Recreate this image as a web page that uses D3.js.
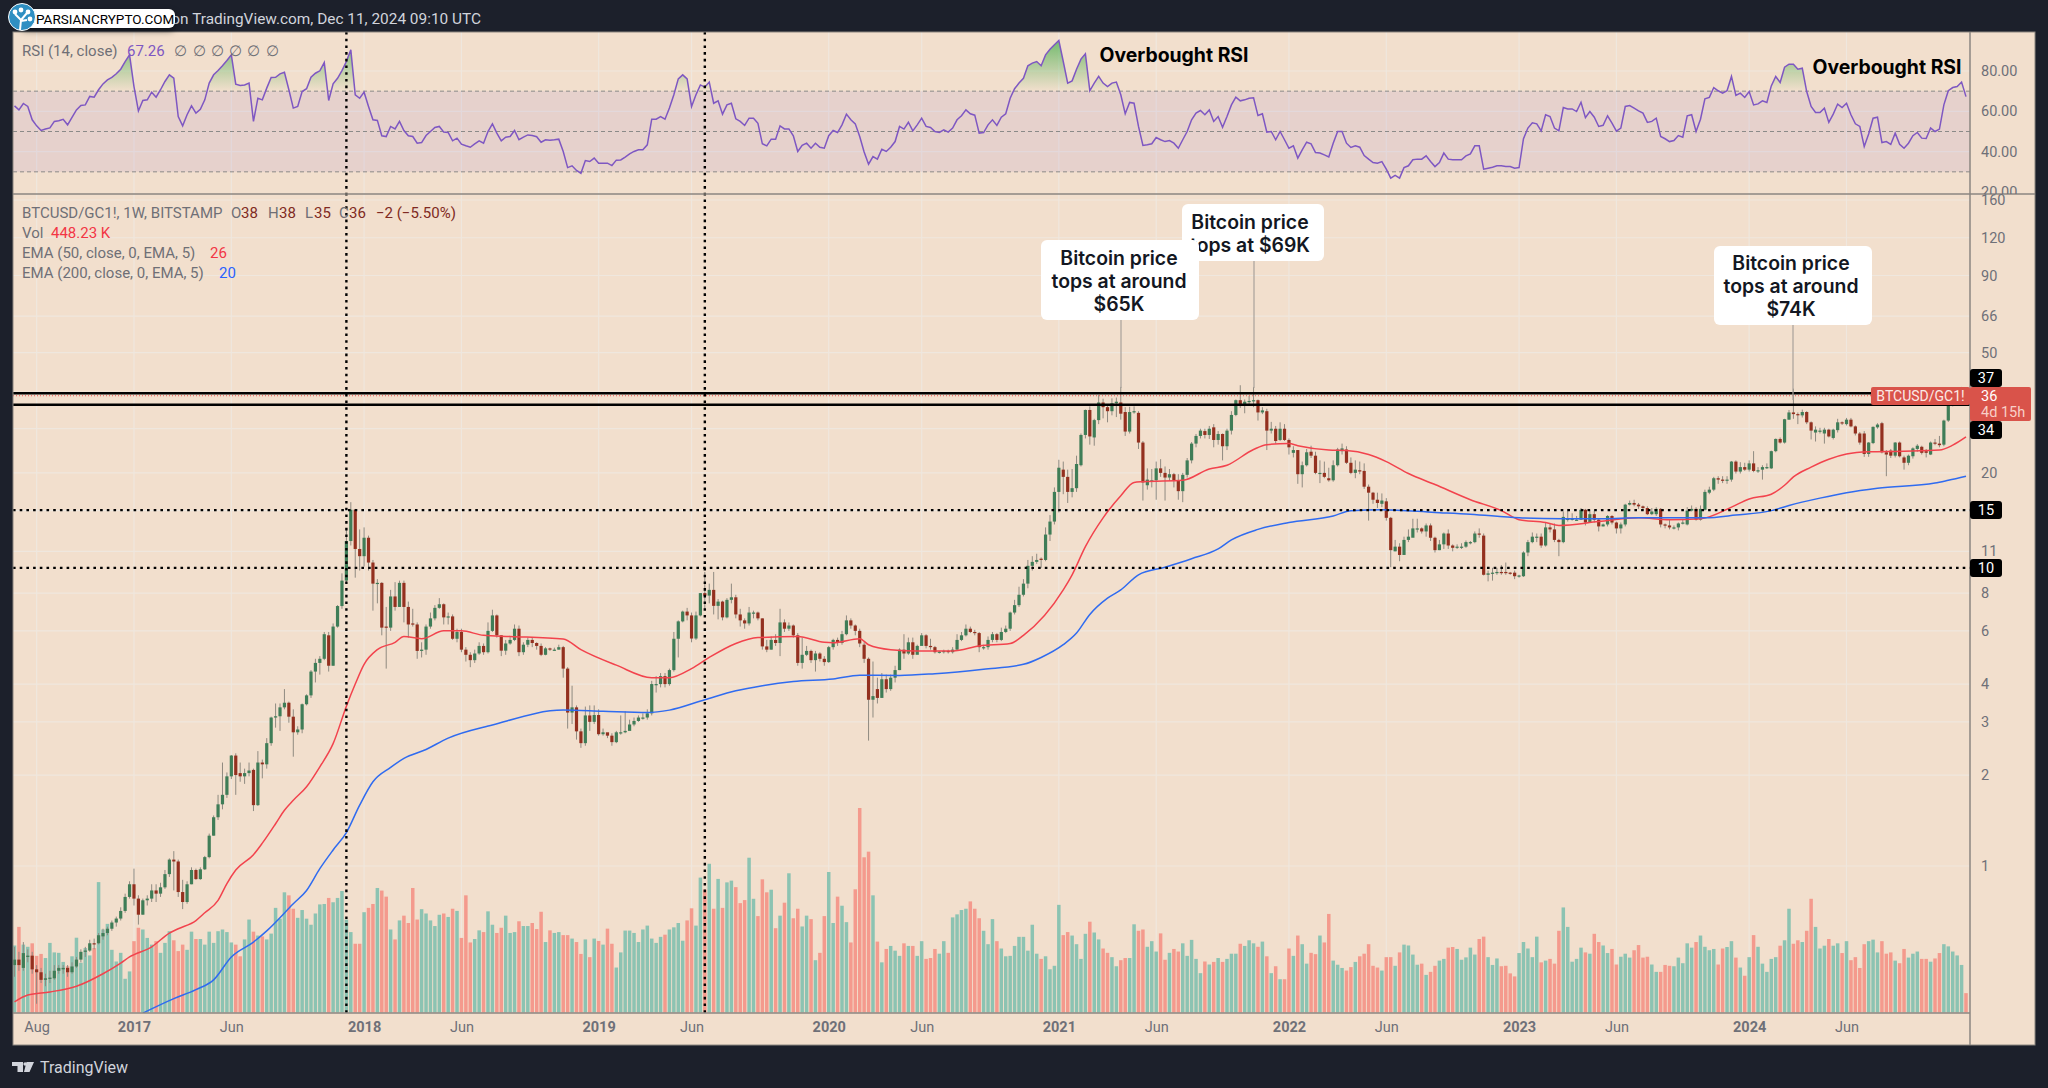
<!DOCTYPE html>
<html>
<head>
<meta charset="utf-8">
<title>BTCUSD/GC1!</title>
<script src="https://cdn.jsdelivr.net/npm/d3@7"></script>
<style>
  body { margin: 0; background: #1c202b; }
  text { font-family: Roboto, "Noto Sans", sans-serif; }
  .note { font-family: Inter, Roboto, sans-serif; font-weight: 600; font-size: 19.4px; fill: #131722; text-anchor: middle; dominant-baseline: central; }
  .legend { font-size: 15px; fill: #6f6f76; dominant-baseline: central; }
  .axis text { font-size: 14.5px; fill: #6f7078; }
  .axis path, .axis line { display: none; }
</style>
</head>
<body>
<div class="chart"></div>
<script>
// weekly bars, 27 Jun 2016 to 9 Dec 2024
var opens = [
.47,.49,.46,.50,.505,.455,.445,.42,.425,.425,
.45,.455,.46,.445,.465,.49,.52,.525,.555,.555,
.585,.60,.62,.65,.67,.71,.79,.87,.78,.69,
.77,.78,.83,.81,.85,.94,1.05,1.035,.82,.76,
.87,.97,.905,.975,1.07,1.26,1.45,1.6,1.72,1.98,
2.32,2.03,1.98,2.03,2.08,1.59,2.2,2.17,2.55,3.1,
3.13,3.35,3.47,3.12,2.77,2.83,3.43,3.67,4.4,4.7,
4.85,5.8,4.6,6.2,7.25,8.8,11.9,15.1,11.2,10.6,
12.2,10.1,8.6,8.65,6.2,6.15,7.8,7.2,8.65,7.2,
6.35,6.3,5.15,5.2,6.2,6.6,7.15,7.35,6.65,6.7,
5.65,5.95,5.2,5.0,4.8,5.05,5.35,5.1,6.0,6.75,
5.8,5.16,5.45,5.6,6.1,5.1,5.4,5.6,5.47,5.35,
5.0,5.25,5.2,5.2,5.3,4.5,3.22,3.35,2.79,2.55,
3.15,3.0,3.16,2.73,2.77,2.7,2.57,2.77,2.77,2.8,
2.94,3.02,3.1,3.1,3.2,4.0,4.0,4.25,4.0,4.45,
5.65,6.45,6.95,6.75,5.66,6.75,8.0,7.85,8.2,7.26,
7.5,6.65,7.6,7.75,6.8,6.5,6.35,6.9,6.9,6.6,
5.33,5.2,5.6,5.47,6.4,6.1,6.25,5.8,4.7,5.0,
5.15,4.8,5.05,4.85,4.73,5.3,5.6,5.47,5.85,6.5,
6.25,6.0,5.4,4.85,3.55,3.85,3.6,4.15,3.85,4.2,
4.45,5.2,5.05,5.5,5.0,5.35,5.8,5.35,5.3,5.1,
5.1,5.15,5.1,5.2,5.6,5.8,6.1,5.95,5.9,5.3,
5.3,5.6,5.85,5.6,5.95,6.1,6.9,7.3,7.9,8.6,
9.85,10.15,10.4,10.3,12.5,13.8,17.3,20.5,19.4,17.3,
17.8,21.2,26.7,32.3,26.2,29.9,34.2,33,32,34,
34.2,31.8,27.4,31.8,31.6,25.2,18.2,18.7,18.9,20.7,
20,19.3,19.8,18.9,17.4,19.7,22,25,26.5,27.5,
26.7,28.3,25.7,26.9,24.5,27.6,31.1,34.8,33.8,34.3,
34.6,34.8,31.7,32,27.6,28,25.7,28,25.7,23.3,
23.8,19.8,21.2,23.5,22.8,20,20,19.2,18.9,21.2,
23.6,23.9,21.6,20,20.4,20.3,18,17.2,16.3,15.8,
16.1,14.2,11,11.4,10.7,12,12.2,13.1,13.1,12.8,
13.4,12.2,11.1,11.6,12.6,11.5,11.3,11.4,11.4,11.8,
11.8,12.6,12.4,9.2,9.3,9.35,9.4,9.4,9.35,9.35,
9.1,9.1,10.9,11.8,12.3,12.3,11.5,13.2,13,12,
11.8,14,14,14,14,15.1,13.7,14.6,14,13.3,
13.5,14.4,13.7,13.1,13.5,15.7,15.9,15.7,15.5,15.3,
14.6,14.6,15.2,13.5,13.4,13.2,13.2,13.6,13.5,15,
15.2,14,15.1,17.2,17.6,19.2,19,18.9,19,21.8,
20.2,20.9,20.5,21.5,20.3,20.5,20.8,20.7,23.6,25.9,
25.2,30,31.7,31.3,31,31.8,29.4,27.2,27.6,27,
27.8,26.1,27.7,29.4,29,30,28.5,27,27,23.1,
25.1,28.3,29.2,23.4,23.7,22.8,25.2,22.5,21.6,22.7,
24,24.4,23.6,23,25.2,25,24.8,29.8,33.5,36,
38,38];
var closes = [
.49,.47,.515,.505,.455,.445,.42,.425,.427,.45,
.46,.46,.445,.465,.49,.52,.525,.555,.55,.59,
.60,.62,.65,.67,.71,.79,.87,.78,.69,.77,
.78,.83,.81,.85,.94,1.05,1.035,.82,.76,.87,
.97,.905,.975,1.07,1.26,1.45,1.6,1.72,1.98,2.32,
2.0,1.98,2.03,2.07,1.59,2.2,2.17,2.55,3.1,3.13,
3.35,3.47,3.12,2.77,2.83,3.43,3.67,4.4,4.7,4.85,
5.85,4.6,6.2,7.25,8.8,11.9,15.1,11.2,10.6,12.2,
10.1,8.6,8.65,6.15,6.15,7.8,7.2,8.65,7.2,6.3,
6.3,5.15,5.2,6.2,6.6,7.15,7.35,6.65,6.7,5.65,
5.95,5.2,5.0,4.8,5.05,5.35,5.1,6.0,6.75,5.8,
5.16,5.45,5.6,6.1,5.1,5.4,5.6,5.47,5.35,5.0,
5.25,5.2,5.2,5.3,4.5,3.22,3.35,2.79,2.55,3.15,
3.0,3.16,2.73,2.77,2.7,2.57,2.77,2.77,2.8,2.94,
3.02,3.1,3.1,3.2,4.0,4.0,4.25,4.0,4.45,5.65,
6.45,6.95,6.75,5.66,6.75,8.0,7.85,8.2,7.26,7.5,
6.65,7.6,7.75,6.8,6.5,6.35,6.9,6.9,6.6,5.33,
5.2,5.6,5.47,6.4,6.1,6.25,5.8,4.7,5.0,5.15,
4.8,5.05,4.85,4.73,5.3,5.6,5.47,5.85,6.5,6.25,
6.0,5.45,4.85,3.55,3.65,3.6,4.15,3.85,4.2,4.45,
5.2,5.05,5.5,5.0,5.35,5.8,5.35,5.3,5.1,5.12,
5.15,5.1,5.2,5.6,5.8,6.1,5.95,5.9,5.3,5.3,
5.6,5.85,5.6,5.95,6.1,6.9,7.3,7.9,8.6,9.85,
10.15,10.3,10.3,12.5,13.8,17.3,20.8,19.4,17.3,17.8,
21.4,26.7,32.3,26.4,29.9,34.2,33,32,34,34.4,
31.4,27.4,31.8,32,25.2,18.6,19,18.9,20.7,20,
19.3,19.8,18.9,17.4,19.7,22,25,26.5,27.6,26.7,
28,25.7,26.9,24.5,27.6,31.1,34.8,33.8,34.4,34.6,
34.8,31.7,32.2,27.6,28,25.5,28,25.7,24.3,23.8,
19.8,21.2,23.4,22.8,20,20,19.4,18.9,21.2,23.9,
24.1,21.6,20,20.5,20.3,18,17.2,16.3,15.9,16.2,
14.2,11.1,11.4,10.7,12,12.3,13.1,13.1,12.8,13.4,
12.2,11.1,11.6,12.6,11.5,11.3,11.4,11.4,11.8,11.8,
12.6,12.5,9.2,9.3,9.35,9.4,9.35,9.35,9.3,9.1,
9.15,10.9,11.8,12.3,12.3,11.5,13.2,13,12,11.8,
14.3,14.1,14.1,14,15.1,13.7,14.6,14,13.3,13.5,
14.4,13.7,13.1,13.5,15.7,15.9,15.7,15.5,15.3,14.6,
14.9,15.2,13.5,13.4,13.2,13.2,13.6,13.7,15,15.2,
14,15.2,17.3,17.6,19.2,19,18.9,19,21.8,20.2,
20.9,20.5,21.5,20.3,20.4,20.9,20.9,23.6,25.9,25.2,
30.1,31.7,31.3,31.1,31.8,29.4,27.6,27.8,27.6,27.8,
26.4,27.8,29.4,29.2,30,28.5,27,25.2,23.1,25.2,
28.4,28.9,23.4,23,22.8,25.2,22.7,21.6,22.8,24.1,
24.6,23.3,23.3,25.2,25,24.7,29.8,33.5,36,37.5,
38,36];
var highs = [
.54,.52,.56,.53,.52,.47,.46,.44,.45,.47,
.47,.47,.47,.48,.50,.53,.54,.57,.575,.60,
.62,.63,.66,.68,.73,.81,.89,.98,.80,.78,
.80,.87,.87,.88,.97,1.06,1.12,1.05,.90,.89,
.99,.98,.99,1.08,1.28,1.47,1.72,2.2,2.04,2.33,
2.36,2.2,2.1,2.2,2.1,2.4,2.25,2.65,3.12,3.45,
3.45,3.85,3.5,3.3,2.9,3.45,3.7,4.45,4.85,4.95,
5.95,5.95,6.35,7.3,9.3,13,16,15.2,13,13.2,
12.4,10.3,8.9,8.7,7.2,8.2,8.7,8.8,8.8,7.5,
7.1,6.4,5.5,6.3,6.9,7.3,7.7,7.4,6.9,6.8,
6.1,6.1,5.3,5.1,5.2,5.5,5.45,6.4,7.05,6.8,
5.8,5.6,5.75,6.3,6.25,5.5,5.7,5.7,5.5,5.45,
5.3,5.28,5.28,5.4,5.35,4.55,3.95,3.4,2.85,3.37,
3.4,3.4,3.3,2.85,2.75,2.75,2.8,3.15,3.25,3.05,
3.1,3.15,3.2,3.3,4.1,4.25,4.35,4.35,4.5,5.95,
6.5,7.0,7.15,6.9,6.95,8.0,9.4,8.6,9.4,7.65,
7.55,7.7,8.6,7.9,7.1,6.6,7.2,7,6.95,6.6,
5.6,5.75,5.85,7.1,6.55,6.4,6.3,5.9,5.7,5.35,
5.2,5.15,5.1,4.95,5.35,5.65,5.7,6.0,6.75,6.6,
6.3,6.1,5.5,4.9,4.75,4.2,4.35,4.3,4.3,4.6,
5.25,5.85,5.7,5.7,5.4,5.9,5.85,5.65,5.35,5.15,
5.2,5.2,5.3,5.85,5.95,6.3,6.2,6.05,5.95,5.4,
5.75,5.95,5.9,6.15,6.25,6.95,7.6,8.4,8.9,10.3,
10.6,10.8,10.5,13.2,14.5,17.9,22.1,21.8,20.5,20.6,
22.8,27,32.4,33.2,30.2,36.2,35.2,33.8,35.3,35.5,
38.5,33,33.1,33.2,32,25.5,20.7,20.6,21.8,22.2,
21,20.6,20,19.8,20,22.4,25.3,26.9,28,28,
28.6,29,27.5,27,28,32,35,39,35,36,
38.5,35,33,32.6,29.5,28.6,29.4,29,26,24.5,
23.8,21.8,24,24.6,23.5,22,21.8,20.8,22,24.2,
25,24.5,22.5,22,21.8,21.5,18.3,17.3,17.2,17.1,
16.5,14.3,12,11.7,12.3,13,14.1,14.1,13.2,13.6,
13.6,12.3,12,12.7,13,11.6,11.6,11.7,11.95,11.9,
12.8,13.1,12.6,9.5,9.7,9.7,9.9,10.1,9.4,9.5,
9.2,11,12,12.7,12.6,12.6,13.7,13.6,13.6,12.1,
14.9,15.2,14.7,14.4,15.3,15.2,15.1,15,14.1,13.6,
14.5,14.5,13.8,13.7,15.8,16.2,16.3,15.9,15.6,15.5,
15.3,15.4,15.3,13.6,14,13.4,13.7,14,15.4,15.6,
15.4,15.6,17.6,18,19.4,19.5,19.5,19.5,21.9,22,
21.7,21.6,22,23.6,20.9,21.2,21.5,23.7,26,26.2,
30.2,32.3,38,31.7,32.4,32,29.6,28.5,28.2,28.2,
28,28,30.2,29.6,30.4,30.4,28.7,27.3,27.5,25.3,
28.5,29.2,29.5,23.8,24,25.3,25.4,22.8,23,24.3,
24.9,24.6,24,25.4,25.9,26.5,30,33.7,37,38,
38.5,38.2];
var lows = [
.43,.45,.45,.48,.44,.35,.41,.40,.41,.42,
.44,.44,.43,.44,.46,.48,.50,.52,.53,.55,
.57,.59,.61,.63,.66,.70,.78,.74,.64,.69,
.74,.76,.76,.79,.84,.92,.83,.79,.72,.75,
.87,.90,.90,.97,1.06,1.26,1.42,1.54,1.68,1.94,
1.72,1.9,1.87,1.98,1.52,1.58,1.95,2.1,2.5,2.87,
2.8,3.3,2.98,2.3,2.72,2.75,3.4,3.6,4.05,4.3,
4.8,4.4,4.6,6.15,7.1,8.6,11.5,9,9.5,9.8,
9.5,7,7.4,5.8,4.5,6.0,7,7.2,6.4,5.7,
6.2,4.85,4.9,5,6.1,6.5,7.1,6.3,6.3,5.6,
5.5,5.1,4.75,4.55,4.7,5.0,5.0,5.05,5.95,5.7,
4.95,5,5.4,5.55,4.95,5,5.3,5.3,5.2,4.95,
4.98,5.15,5.15,5.2,4.2,2.85,2.95,2.62,2.46,2.5,
2.8,2.95,2.7,2.7,2.65,2.5,2.55,2.72,2.75,2.85,
2.9,3.0,3.05,3.05,3.15,3.75,3.9,3.9,3.95,4.4,
4.9,6.4,6.5,5.5,5.6,6.7,7.1,7.4,6.8,6.55,
6.5,6.6,7.4,6.6,6.2,6.1,6.25,6.6,6.5,5.2,
5.1,5.2,5.35,4.95,5.95,6,5.7,4.6,4.5,4.95,
4.7,4.4,4.75,4.6,4.7,5.2,5.35,5.4,5.8,6.1,
5.8,5.3,4.7,2.6,3.1,3.45,3.6,3.75,3.8,4.05,
4.45,4.85,5,4.85,5.2,5.4,5.25,5.2,5.05,5.05,
5.05,5.05,5.05,5.15,5.55,5.75,5.9,5.8,5.1,5.2,
5.2,5.5,5.5,5.55,5.9,6.0,6.8,7.2,7.8,8.3,
9.5,10,9.7,10.2,11.9,13.5,14.8,17,15.9,16.6,
17.3,21,26,24.8,24.6,29,30.3,29.4,31,30.6,
30,26.5,27,31.4,24,16.2,17.6,17.9,16.3,19.4,
16.2,18.8,17.9,16.3,16,19.3,21.5,24.3,26,26,
25.9,24.3,24.8,22,23.8,26.8,30.8,32.8,31.5,33.8,
33,29.8,31.3,23.8,27,25,25.5,25.5,23,22.5,
18.4,17.9,21,22.4,19.8,18.5,19.2,18.7,18.7,21,
23,21.4,19.8,19.2,19.8,17.7,13.9,15.8,15.3,15.4,
13.9,9.75,11,10.2,11.4,11.8,12.5,12.7,12.6,12.3,
11.9,10.9,11.1,11.2,11.2,11,11.2,11.2,11.3,11.6,
11.7,12.2,9.15,8.75,8.8,9.2,9.2,9.2,9.2,8.9,
9,9.05,10.6,11.7,11.8,11.3,11.4,12.7,11.8,10.6,
11.7,13.8,13.9,13.9,14,13.4,13.7,13.7,12.8,13.3,
13.3,13.5,12.6,12.6,13.3,15.6,15.5,15.2,15,14.5,
14.5,14.4,13.2,13.1,13,13,12.9,13.5,13.4,14.9,
13.9,13.9,15,17,17.4,18.4,18.5,18.4,18.7,19.9,
19.9,20.3,20.2,20.1,20,19,20.6,20.6,23.4,25,
25,30,30.2,29,30.5,29,25.8,25.4,27,25,
26.2,25.8,27.2,28.8,28.7,28.3,26.6,24.8,22.6,22.6,
24.9,28,23.2,19.5,22.4,22.5,22.5,20.5,21.2,22.3,
23.5,23,22.5,22.9,24.7,24.3,24.5,29.5,33.2,35.5,
36,35];
// volume in thousands
var volumes = [
1550,1980,1570,1520,1600,1310,1355,1260,1610,1390,
1380,1170,1070,1300,1730,1150,1490,1320,1490,3016,
1920,2050,1450,1180,1380,780,950,1650,1960,1920,
1725,1570,1650,1380,1610,1880,1670,1420,1570,1450,
1870,1700,1700,1570,1870,1610,1880,1920,1860,1620,
1570,1300,1690,2150,1870,1780,1760,1690,1825,2420,
2170,2780,2710,2400,2190,2370,2170,2030,2290,2500,
2510,2650,2550,2650,2810,2150,1860,1590,1590,2320,
2420,2510,2880,2820,2680,1920,1690,2130,2240,2070,
2880,2150,2390,2290,2130,2000,2260,2290,2210,2400,
2350,1725,2710,1620,1700,1900,1860,2340,2030,1840,
1960,2240,1840,1860,2110,2000,2000,2070,1930,2330,
1630,1900,1840,1860,1790,1790,1710,1630,1355,1690,
1280,1710,1655,1570,1940,1590,1040,1390,1895,1895,
1840,1630,1920,2010,1710,1610,1750,1800,1920,1970,
2070,1660,2130,2410,2010,3120,2840,3440,2400,3090,
2420,3010,3050,2900,2530,2600,3580,2630,2230,3080,
2780,2840,1950,2240,2540,3220,2180,2400,1990,2240,
2160,1210,1380,2230,3250,2070,2680,2470,2090,1620,
2850,4730,3590,3720,2710,1640,1160,1470,1540,1430,
1310,1600,1540,1540,1310,1650,1240,1260,1470,1360,
1650,1380,2200,2270,2370,2400,2570,2400,2180,1890,
1580,2160,1650,1480,1300,1310,1540,1750,1750,1430,
2030,1360,1240,1300,1000,1080,2490,1790,1860,1780,
1580,1240,1820,2100,1850,1690,1480,1380,1280,1070,
1210,1260,1260,2040,1890,1920,1520,1650,1410,1830,
1220,1380,1470,1410,1600,1310,1680,1240,910,1180,
1110,1170,1260,1170,1240,1360,1360,1590,1540,1670,
1600,1520,1640,1300,910,1070,770,770,1480,1310,
1780,1580,1130,1380,1350,1780,1620,2280,1200,1105,
1030,970,1050,1170,1300,1360,1580,1080,1040,970,
1280,1280,1080,1390,1570,1550,1340,1105,1130,870,
940,1080,1200,1240,1500,1515,1470,1220,1275,1500,
1340,1700,1755,1280,1100,1250,1070,1080,905,835,
1375,1630,1480,1280,1755,1160,1200,1240,1130,1890,
2430,1980,1175,1240,1500,1390,1360,1820,1630,1550,
1375,1470,1110,1290,1360,1270,1440,1560,1270,1290,
1110,940,940,1100,1080,1070,1270,1140,1600,1500,
1630,1780,1520,1440,1470,1110,1480,1515,1650,1270,
1040,850,1280,1790,1520,1130,940,1240,1280,1545,
1670,2400,1590,1670,1630,1890,2630,1980,1480,1545,
1700,1545,1600,1375,1650,1210,1280,1030,1580,1650,
1685,1390,1650,1360,1390,1200,1140,1470,1270,1360,
1410,1240,1240,1175,1250,1375,1580,1530,1410,1320,
1100,448];
var rsi = [
62.7,60.7,63.9,62.4,55.8,52.8,50.5,51.2,51.8,55,
55.3,56,53.3,57,60.7,62.9,63.2,67.4,67,70.7,
73.6,75.6,76.8,78.6,80.9,84.7,88,72.3,60.2,65.4,
65.7,69.5,67,70.7,74.8,78.1,76.4,57.4,52.8,58.3,
62.7,59.1,61,65.7,74,78.1,80.2,82.6,85.2,88,
73.5,72.8,73.1,74,55,66.5,65.7,71.5,76.8,76.9,
78.6,79.4,70.7,61.6,62.4,69.8,71.2,76.9,78.9,80.1,
84.2,65.4,73.6,76.4,80.2,84.7,90.5,68.2,66.5,69.5,
62.4,55.8,55.5,47.9,47.5,52.5,51.3,55,50.5,47.9,
47.5,44.2,44.5,48,50,52,52.5,49.7,49.5,45.4,
46.7,43.7,42.9,42.2,43.9,45.4,44.2,50,53.8,49.2,
45.4,47.2,47.5,50.5,45.9,47.2,48.3,48,47.4,44.7,
45.9,45.7,45.9,46.2,40.1,32.1,33,30.7,29.3,35.6,
35.1,36.8,34.3,34.3,34.3,33.1,35.8,35.9,37.3,38.9,
40.1,40.9,40.9,43.4,56.1,56.1,57.4,56.1,61.6,68.2,
76.1,78.1,76.1,62.4,68.2,73.1,72,74.5,64,65.2,
58.6,63.2,64,56.3,55,53,56.6,56.6,54.1,43.9,
42.9,46.2,46.2,52.8,51.3,51.3,47.9,40.1,43.1,44.2,
41.7,44.2,42.2,41.7,47.9,50.5,49.5,53.3,58.6,55.8,
53.8,47.5,39.8,33.8,37.6,36.3,41.2,40.1,42.2,45,
52.5,51.2,54.6,50.3,53.3,56.6,52.5,52,50,49.5,
50.8,49.7,51.7,55.8,57.8,60.7,58.8,58.1,49.2,49.5,
53.3,55.8,53,57.1,58.8,66.5,71.2,74,76.4,82.6,
83.9,84.7,82.6,88,90.8,93,95.1,84.7,74,75.1,
80.9,85.9,88.5,70.2,74,77.3,74,72.3,74,74.5,
68.2,58.8,64.4,64,52.5,43.1,43.4,43.9,47,45.9,
45,45.5,44.2,41.7,45.9,50,55.8,59.1,60.4,58.3,
60.7,55,57.4,52.1,57.4,63.2,67,65.2,65.7,66.5,
66.7,57.9,58.8,49.7,50,45.9,50,45.9,41.7,42.9,
36.8,40.9,44.7,43.9,39.6,39.3,38.4,37.4,44.2,50,
50,44.2,42.1,42.9,42.2,38.1,36.3,34.6,34.3,35.1,
31.3,26.9,28.2,26.9,32.1,33,36,36.3,36.3,37.9,
35.1,32.6,34.6,39.3,36.3,36,36,36,37.9,38.9,
42.9,42.9,31.3,31.8,32.3,33,33,32.6,32.6,31.8,
32.1,46.4,51.7,54.3,53.8,50.3,58.3,57.4,51.7,50.3,
61.9,61.2,61.2,59.9,64.5,56.9,59.9,57.1,52.5,53.1,
57.8,54.1,50.2,51.7,62.4,62.9,61.6,60.2,59.1,54.5,
55,56.6,47.5,46.4,45,45.5,48,47.2,57.8,58.3,
50,56.1,66.2,66.9,71.8,70.2,69,70.2,77.3,67.9,
69,66.9,69.8,63.2,63.7,65.2,64.4,72.6,77.3,74.3,
81.9,83.4,83.4,80.9,81.4,69.8,62.4,59.4,59.4,61.6,
54.5,58.6,63.6,61.9,64,58.3,53.8,52.5,42.6,48.8,
56.6,57.1,44.5,45,43.6,49.2,43.7,41.7,44.2,47.9,
49.5,46.7,46.5,51.8,50,51.2,63.2,70.2,71.8,72.3,
74.5,67.3];

// moving averages: bar number and value, where the line visibly bends
var ema50Bars = [0,3,8,14,20,24,26,31,35,37,41,43,46,48,50,54,56,59,61,63,66,69,72,75,77,79,82,86,88,92,97,101,106,112,124,128,136,144,148,153,157,163,168,177,183,185,191,193,198,204,212,218,225,228,237,239,242,246,250,253,255,264,270,274,280,283,288,290,297,301,306,310,315,321,329,336,340,346,349,358,367,374,381,388,392,397,400,402,406,410,414,419,427,435,438,441];
var ema50 = [.355,.374,.383,.40,.44,.477,.50,.54,.60,.62,.66,.70,.77,.875,.97,1.09,1.19,1.38,1.53,1.65,1.83,2.13,2.54,3.38,4,4.65,5.2,5.5,5.75,5.65,6,6,5.8,5.75,5.64,5.2,4.62,4.2,4.2,4.5,4.9,5.45,5.7,5.75,5.5,5.48,5.65,5.4,5.2,5.15,5.15,5.35,5.45,5.8,8.2,9.2,11.4,14.2,16.8,18.6,18.7,18.9,20.6,21.2,23.9,24.8,25,24.6,23.8,23.7,23,21.8,19.9,18.3,16.3,15,14,13.7,13.4,13.8,14.2,14,14.1,15.4,16.4,17,18.2,19.4,20.9,22.2,23.1,23.5,23.6,23.8,24.7,26.3];
var ema200Bars = [29,36,41,45,49,54,57,63,66,69,72,75,78,81,85,88,93,98,108,124,133,143,148,156,163,169,176,185,191,200,208,219,228,232,237,240,243,247,250,254,260,266,272,275,281,288,298,302,309,321,329,340,350,359,367,382,389,397,401,408,414,421,434,437,441];
var ema200 = [.326,.364,.39,.42,.50,.56,.61,.75,.83,.98,1.13,1.29,1.59,1.9,2.12,2.27,2.43,2.65,2.93,3.28,3.25,3.22,3.28,3.55,3.8,3.95,4.08,4.16,4.28,4.27,4.33,4.48,4.65,4.9,5.4,5.9,6.8,7.7,8.2,9.2,9.75,10.4,11.2,12,13,13.7,14.4,15,15.1,14.8,14.6,14.2,14.1,14.1,14.2,14.2,14.5,15,15.6,16.5,17.2,17.8,18.5,18.9,19.5];

var tickBars = [5,27,49,79,101,132,153,184,205,236,258,288,310,340,362,392,414];
var tickLabels = ["Aug","2017","Jun","2018","Jun","2019","Jun","2020","Jun","2021","Jun","2022","Jun","2023","Jun","2024","Jun"];
var priceTicks = [160,120,90,66,50,20,11,8,6,4,3,2,1];
var priceGrid = [160,120,90,66,50,37,28,20,15,11,8,6,4,3,2,1];
var rsiTicks = [80,60,40,20];
var rsiBands = [70,50,30];
var solidLevels = [36.7,33.6];
var dottedLevels = [15.06,9.7];
var dottedBars = [75,156];
var lastPrice = 36;

var svgWidth = 2048;
var svgHeight = 1088;

var pane = { left: 13, right: 1970, axisRight: 2035, top: 32, split: 194, bottom: 1013, timeBottom: 1045 };

var svg = d3.select(".chart")
  .append("svg")
  .attr("width", svgWidth)
  .attr("height", svgHeight)
  .style("display", "block");

var x = d3.scaleLinear().domain([0, 441]).range([14.5, 1966]);
var yPrice = d3.scaleLog().domain([1, 160]).range([866, 200]);
var yRsi = d3.scaleLinear().domain([20, 80]).range([192, 71]);
var yVol = d3.scaleLinear().domain([0, 4730]).range([1012.5, 808]);

var defs = svg.append("defs");
defs.append("clipPath").attr("id", "clipRsi").append("rect")
  .attr("x", pane.left).attr("y", pane.top)
  .attr("width", pane.right - pane.left).attr("height", pane.split - pane.top);
defs.append("clipPath").attr("id", "clipMain").append("rect")
  .attr("x", pane.left).attr("y", pane.split)
  .attr("width", pane.right - pane.left).attr("height", pane.bottom - pane.split);
defs.append("clipPath").attr("id", "clipOver").append("rect")
  .attr("x", pane.left).attr("y", pane.top)
  .attr("width", pane.right - pane.left).attr("height", yRsi(70) - pane.top);
defs.append("clipPath").attr("id", "clipRsiAxis").append("rect")
  .attr("x", pane.right).attr("y", pane.top)
  .attr("width", pane.axisRight - pane.right).attr("height", pane.split - pane.top);

var grad = defs.append("linearGradient").attr("id", "overFill")
  .attr("gradientUnits", "userSpaceOnUse")
  .attr("x1", 0).attr("x2", 0).attr("y1", yRsi(95)).attr("y2", yRsi(70));
grad.append("stop").attr("offset", "0%").attr("stop-color", "#4caf50").attr("stop-opacity", 0.75);
grad.append("stop").attr("offset", "100%").attr("stop-color", "#4caf50").attr("stop-opacity", 0);

// background panel
svg.append("rect")
  .attr("x", pane.left).attr("y", pane.top)
  .attr("width", pane.axisRight - pane.left).attr("height", pane.timeBottom - pane.top)
  .attr("fill", "#f2dfcd");

// grid
var grid = svg.append("g").attr("stroke", "#efe7de").attr("stroke-width", 1.2);
grid.selectAll(".vgrid").data(tickBars).enter().append("line")
  .attr("x1", d => x(d)).attr("x2", d => x(d))
  .attr("y1", pane.top).attr("y2", pane.bottom);
grid.selectAll(".hgrid").data(priceGrid).enter().append("line")
  .attr("x1", pane.left).attr("x2", pane.right)
  .attr("y1", d => yPrice(d)).attr("y2", d => yPrice(d));
grid.selectAll(".rgrid").data([80, 60, 40]).enter().append("line")
  .attr("x1", pane.left).attr("x2", pane.right)
  .attr("y1", d => yRsi(d)).attr("y2", d => yRsi(d));

// RSI pane
var rsiGroup = svg.append("g").attr("clip-path", "url(#clipRsi)");
rsiGroup.append("rect")
  .attr("x", pane.left).attr("width", pane.right - pane.left)
  .attr("y", yRsi(70)).attr("height", yRsi(30) - yRsi(70))
  .attr("fill", "#7e57c2").attr("fill-opacity", 0.1);

rsiGroup.selectAll(".band").data(rsiBands).enter().append("line")
  .attr("x1", pane.left).attr("x2", pane.right)
  .attr("y1", d => yRsi(d)).attr("y2", d => yRsi(d))
  .attr("stroke", "#8b8a88").attr("stroke-width", 1).attr("stroke-dasharray", "4 3");

var rsiArea = d3.area()
  .x((d, i) => x(i))
  .y0(yRsi(70))
  .y1(d => yRsi(d));
rsiGroup.append("path")
  .attr("d", rsiArea(rsi))
  .attr("fill", "url(#overFill)")
  .attr("clip-path", "url(#clipOver)");

var rsiLine = d3.line().x((d, i) => x(i)).y(d => yRsi(d));
rsiGroup.append("path")
  .attr("d", rsiLine(rsi))
  .attr("fill", "none").attr("stroke", "#7e57c2").attr("stroke-width", 1.5);

// volume, candles and averages
var mainGroup = svg.append("g").attr("clip-path", "url(#clipMain)");

mainGroup.selectAll(".vol").data(volumes).enter().append("rect")
  .attr("x", (d, i) => x(i) - 1.75)
  .attr("width", 3.5)
  .attr("y", d => yVol(d))
  .attr("height", d => yVol(0) - yVol(d))
  .attr("fill", (d, i) => closes[i] >= opens[i] ? "#8cc3b2" : "#f49a8d");

var bars = d3.range(closes.length);
mainGroup.selectAll(".wick").data(bars).enter().append("line")
  .attr("x1", d => x(d)).attr("x2", d => x(d))
  .attr("y1", d => yPrice(highs[d])).attr("y2", d => yPrice(lows[d]))
  .attr("stroke", "#8f8a80").attr("stroke-width", 1);

mainGroup.selectAll(".body").data(bars).enter().append("rect")
  .attr("x", d => x(d) - 1.6)
  .attr("width", 3.2)
  .attr("y", d => yPrice(Math.max(opens[d], closes[d])))
  .attr("height", d => Math.max(1.2, yPrice(Math.min(opens[d], closes[d])) - yPrice(Math.max(opens[d], closes[d]))))
  .attr("fill", d => closes[d] >= opens[d] ? "#3f7d57" : "#93301f");

var emaLine = d3.line().curve(d3.curveMonotoneX).x(d => x(d[0])).y(d => yPrice(d[1]));
mainGroup.append("path")
  .attr("d", emaLine(d3.zip(ema50Bars, ema50)))
  .attr("fill", "none").attr("stroke", "#f2434d").attr("stroke-width", 1.5);
mainGroup.append("path")
  .attr("d", emaLine(d3.zip(ema200Bars, ema200)))
  .attr("fill", "none").attr("stroke", "#2f6bf0").attr("stroke-width", 1.5);

// drawn levels
mainGroup.append("line")
  .attr("x1", pane.left).attr("x2", pane.right)
  .attr("y1", yPrice(lastPrice)).attr("y2", yPrice(lastPrice))
  .attr("stroke", "#ef5350").attr("stroke-width", 1).attr("stroke-dasharray", "1 2");
mainGroup.selectAll(".solid").data(solidLevels).enter().append("line")
  .attr("x1", pane.left).attr("x2", pane.right)
  .attr("y1", d => yPrice(d)).attr("y2", d => yPrice(d))
  .attr("stroke", "#000").attr("stroke-width", 2.4);
mainGroup.selectAll(".dotted").data(dottedLevels).enter().append("line")
  .attr("x1", pane.left).attr("x2", pane.right)
  .attr("y1", d => yPrice(d)).attr("y2", d => yPrice(d))
  .attr("stroke", "#000").attr("stroke-width", 2.4).attr("stroke-dasharray", "2.6 4.1");
svg.selectAll(".vdot").data(dottedBars).enter().append("line")
  .attr("x1", d => x(d)).attr("x2", d => x(d))
  .attr("y1", pane.top).attr("y2", pane.bottom)
  .attr("stroke", "#000").attr("stroke-width", 2.4).attr("stroke-dasharray", "2.6 4.1");

// pane borders
var border = svg.append("g").attr("stroke", "#8b8680").attr("fill", "none");
border.append("rect")
  .attr("x", pane.left).attr("y", pane.top)
  .attr("width", pane.axisRight - pane.left).attr("height", pane.timeBottom - pane.top)
  .attr("stroke-width", 1);
border.append("line").attr("x1", pane.left).attr("x2", pane.axisRight)
  .attr("y1", pane.split).attr("y2", pane.split).attr("stroke-width", 1.5);
border.append("line").attr("x1", pane.left).attr("x2", pane.right)
  .attr("y1", pane.bottom).attr("y2", pane.bottom).attr("stroke-width", 1.5);
border.append("line").attr("x1", pane.right).attr("x2", pane.right)
  .attr("y1", pane.top).attr("y2", pane.timeBottom).attr("stroke-width", 1.5);

// axes
var rightPrice = d3.axisRight(yPrice)
  .tickValues(priceTicks).tickFormat(d3.format("d")).tickSize(0).tickPadding(11);
svg.append("g").attr("class", "axis")
  .attr("transform", `translate(${pane.right}, 0)`)
  .call(rightPrice);

// the lowest RSI label is cut by the pane edge
var rightRsi = d3.axisRight(yRsi)
  .tickValues(rsiTicks).tickFormat(d3.format(".2f")).tickSize(0).tickPadding(11);
svg.append("g").attr("clip-path", "url(#clipRsiAxis)")
  .append("g").attr("class", "axis")
  .attr("transform", `translate(${pane.right}, 0)`)
  .call(rightRsi);

var bottomAxis = d3.axisBottom(x)
  .tickValues(tickBars)
  .tickFormat(d => tickLabels[tickBars.indexOf(d)])
  .tickSize(0).tickPadding(9);
var timeAxis = svg.append("g").attr("class", "axis")
  .attr("transform", `translate(0, ${pane.bottom})`)
  .call(bottomAxis);
timeAxis.selectAll("text")
  .style("font-weight", d => tickLabels[tickBars.indexOf(d)].length === 4 ? 700 : 400);

// price labels on the scale
function priceLabel(text, cy, fill) {
  svg.append("rect").attr("x", pane.right).attr("y", cy - 9)
    .attr("width", 32).attr("height", 18).attr("rx", 3).attr("fill", fill);
  svg.append("text").attr("x", pane.right + 16).attr("y", cy).attr("dy", "0.35em")
    .attr("text-anchor", "middle").attr("fill", "#fff").attr("font-size", 14.5).text(text);
}
priceLabel("37", 378, "#000");
priceLabel("34", 430, "#000");
priceLabel("15", 510, "#000");
priceLabel("10", 568, "#000");

svg.append("rect").attr("x", pane.right).attr("y", 387)
  .attr("width", 61).attr("height", 34).attr("rx", 2).attr("fill", "#d9534a");
svg.append("text").attr("x", pane.right + 11).attr("y", 396).attr("dy", "0.35em")
  .attr("fill", "#fff").attr("font-size", 14.5).text("36");
svg.append("text").attr("x", pane.right + 11).attr("y", 412).attr("dy", "0.35em")
  .attr("fill", "#f8cfc8").attr("font-size", 14.5).text("4d 15h");
svg.append("rect").attr("x", 1871).attr("y", 387)
  .attr("width", 99).attr("height", 18).attr("rx", 2).attr("fill", "#d9534a");
svg.append("text").attr("x", 1920.5).attr("y", 396).attr("dy", "0.35em")
  .attr("text-anchor", "middle").attr("fill", "#fbeae6").attr("font-size", 14).text("BTCUSD/GC1!");

// legends
function legendRow(rowY, parts) {
  var row = svg.append("text").attr("class", "legend").attr("y", rowY);
  parts.forEach(function(p) {
    row.append("tspan").attr("x", p[0]).attr("fill", p[2]).style("fill", p[2]).text(p[1]);
  });
}
var gray = "#6f6f76";
var maroon = "#7f2a22";
legendRow(51, [[22, "RSI (14, close)", gray], [127, "67.26", "#7e57c2"],
  [174, "∅", gray], [192.5, "∅", gray], [211, "∅", gray], [229, "∅", gray], [247, "∅", gray], [266, "∅", gray]]);
legendRow(213, [[22, "BTCUSD/GC1!, 1W, BITSTAMP", gray],
  [231, "O", gray], [241, "38", maroon], [268, "H", gray], [279, "38", maroon],
  [305, "L", gray], [314, "35", maroon], [339, "C", gray], [349, "36", maroon], [376, "−2 (−5.50%)", maroon]]);
legendRow(233, [[22, "Vol", gray], [51, "448.23 K", "#f23645"]]);
legendRow(253, [[22, "EMA (50, close, 0, EMA, 5)", gray], [210, "26", "#f23645"]]);
legendRow(273, [[22, "EMA (200, close, 0, EMA, 5)", gray], [219, "20", "#2962ff"]]);

// callouts; the $65K box sits over the $69K one
function callout(box, lines, cx, firstY, stemX, stemEnd) {
  svg.append("line").attr("x1", stemX).attr("x2", stemX)
    .attr("y1", box[3]).attr("y2", stemEnd)
    .attr("stroke", "#a8a29b").attr("stroke-width", 1.2);
  svg.append("rect").attr("x", box[0]).attr("y", box[1])
    .attr("width", box[2] - box[0]).attr("height", box[3] - box[1])
    .attr("rx", 6).attr("fill", "#fff");
  lines.forEach(function(t, i) {
    svg.append("text").attr("class", "note").attr("x", cx).attr("y", firstY + i * 23).text(t);
  });
}
callout([1182, 204, 1324, 261], ["Bitcoin price", "tops at $69K"], 1250, 222, 1254, 388);
callout([1041, 240, 1199, 320], ["Bitcoin price", "tops at around", "$65K"], 1119, 258, 1121, 388);
callout([1714, 246, 1872, 325], ["Bitcoin price", "tops at around", "$74K"], 1791, 263, 1793, 400);

svg.append("text").attr("class", "note").attr("x", 1174).attr("y", 55)
  .style("fill", "#000").style("font-weight", 700).text("Overbought RSI");
svg.append("text").attr("class", "note").attr("x", 1887).attr("y", 67)
  .style("fill", "#000").style("font-weight", 700).text("Overbought RSI");

// header; the start of the line is hidden behind the site badge
svg.append("text").attr("x", 481).attr("y", 19).attr("dy", "0.35em")
  .attr("text-anchor", "end").attr("fill", "#d1d4dc").attr("font-size", 15.4)
  .text("on TradingView.com, Dec 11, 2024 09:10 UTC");

svg.append("rect").attr("x", 20).attr("y", 9).attr("width", 155).attr("height", 19)
  .attr("rx", 6).attr("fill", "#fff")
  .style("filter", "drop-shadow(0 3px 3px rgba(0,0,0,0.5))");
svg.append("circle").attr("cx", 22).attr("cy", 17).attr("r", 13.5)
  .attr("fill", "#2f8fc2").attr("stroke", "#fff").attr("stroke-width", 1);
svg.append("path").attr("d", "M20 30 L21 20 M21 20 L15 14 M21 20 L27 13 M21 21 L27 20")
  .attr("stroke", "#fff").attr("stroke-width", 2).attr("fill", "none");
svg.selectAll(".dot").data([[15, 12], [21, 10], [28, 12], [30, 19]]).enter().append("circle")
  .attr("cx", d => d[0]).attr("cy", d => d[1]).attr("r", 2.4).attr("fill", "#fff");
svg.append("text").attr("x", 36).attr("y", 19).attr("dy", "0.35em")
  .attr("fill", "#000").attr("font-size", 13.5).text("PARSIANCRYPTO.COM");

// footer logo
svg.append("path")
  .attr("d", "M12 1062 H23 V1072 H17.5 V1066 H12 Z M26.5 1062 H34 L29.5 1072 H24 Z")
  .attr("fill", "#d1d4dc");
svg.append("circle").attr("cx", 25.2).attr("cy", 1064).attr("r", 1.8).attr("fill", "#d1d4dc");
svg.append("text").attr("x", 40).attr("y", 1067).attr("dy", "0.35em")
  .attr("fill", "#d1d4dc").attr("font-size", 16).text("TradingView");
</script>
</body>
</html>
